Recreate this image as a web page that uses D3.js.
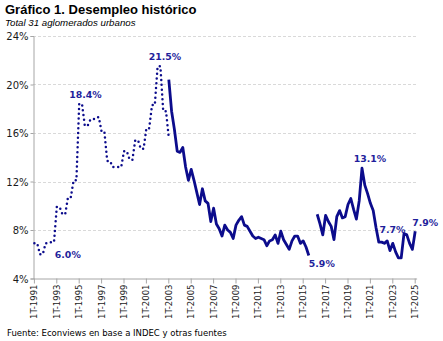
<!DOCTYPE html>
<html>
<head>
<meta charset="utf-8">
<script src="https://cdn.jsdelivr.net/npm/d3@7"></script>
<style>
  body { margin: 0; background: #fff; }
  svg { display: block; }
  .title { font-family: "Liberation Sans", Arial, sans-serif; font-weight: bold; font-size: 13px; fill: #000; }
  .sub { font-family: "Liberation Sans", Arial, sans-serif; font-style: italic; font-size: 9.7px; fill: #000; }
  .src { font-family: "DejaVu Sans", sans-serif; font-size: 8.5px; fill: #000; }
  .ylab { font-family: "DejaVu Sans", sans-serif; font-size: 10px; fill: #1a1a1a; }
  .xlab { font-family: "DejaVu Sans", sans-serif; font-size: 8.5px; fill: #1a1a1a; }
  .vlab { font-family: "DejaVu Sans", sans-serif; font-size: 9.4px; font-weight: bold; fill: #1f1f9c; }
</style>
</head>
<body>
<div id="chart"></div>
<script>
// quarters 1T-1991 ... 1T-2025
var years = d3.range(1991, 2026);
var quarters = [];
years.forEach(function(y) {
  for (var q = 1; q <= 4; q++) {
    if (y == 2025 && q > 1) break;
    quarters.push(q + "T-" + y);
  }
});

var tickLabels = ["1T-1991","1T-1993","1T-1995","1T-1997","1T-1999","1T-2001","1T-2003",
  "1T-2005","1T-2007","1T-2009","1T-2011","1T-2013","1T-2015","1T-2017","1T-2019",
  "1T-2021","1T-2023","1T-2025"];
var yTicks = [4, 8, 12, 16, 20, 24];

// EPH puntual (mayo / octubre), 1T-1991 a 1T-2003
var puntualStart = "1T-1991";
var puntual = [6.9, 6.9, 6.0, 6.0, 6.9, 6.9, 7.0, 7.0, 9.9, 9.9, 9.3, 9.3,
  10.7, 10.7, 12.1, 12.1, 18.4, 18.4, 16.6, 16.6, 17.1, 17.1, 17.3, 17.3,
  16.1, 16.1, 13.7, 13.7, 13.2, 13.2, 13.2, 13.2, 14.5, 14.5, 13.8, 13.8,
  15.4, 15.4, 14.7, 14.7, 16.4, 16.4, 18.3, 18.3, 21.5, 21.5, 17.8, 17.8, 15.6];

// EPH continua, 1T-2003 a 3T-2015
var continuaStart = "1T-2003";
var continua = [20.4, 17.8, 16.3, 14.5, 14.4, 14.8, 13.2, 12.1, 13.0, 12.1, 11.1, 10.1,
  11.4, 10.4, 10.2, 8.7, 9.8, 8.5, 8.1, 7.5, 8.4, 8.0, 7.8, 7.3,
  8.4, 8.8, 9.1, 8.4, 8.3, 7.9, 7.5, 7.3, 7.4, 7.3, 7.2, 6.7,
  7.1, 7.2, 7.6, 6.9, 7.9, 7.2, 6.8, 6.4, 7.1, 7.5, 7.5, 6.9,
  7.1, 6.6, 5.9];

// EPH continua, 2T-2016 a 1T-2025
var recienteStart = "2T-2016";
var reciente = [9.3, 8.5, 7.6, 9.2, 8.7, 8.3, 7.2, 9.1, 9.6, 9.0, 9.1,
  10.1, 10.6, 9.7, 8.9, 10.4, 13.1, 11.7, 11.0, 10.2, 9.6, 8.2, 7.0,
  7.0, 6.9, 7.1, 6.3, 6.9, 6.2, 5.7, 5.7, 7.7, 7.6, 6.9, 6.4, 7.9];

// labelled points
var labelQuarters = ["4T-1991", "2T-1995", "2T-2002", "3T-2015", "2T-2020", "1T-2024", "1T-2025"];

function toPoints(start, vals) {
  var i0 = quarters.indexOf(start);
  return vals.map(function(v, k) { return {q: quarters[i0 + k], v: v}; });
}

var dotted = toPoints(puntualStart, puntual);
var solidA = toPoints(continuaStart, continua);
var solidB = toPoints(recienteStart, reciente);
var allPts = dotted.concat(solidA, solidB);

const W = 443, H = 341;
const svg = d3.select("#chart").append("svg")
  .attr("width", W).attr("height", H);

const x = d3.scaleBand().domain(quarters).range([33, 416.6]).padding(0);
const y = d3.scaleLinear().domain([4, 24]).range([278.5, 36]);
const cx = q => x(q) + x.bandwidth() / 2;

// title
svg.append("text").attr("class", "title").attr("x", 5).attr("y", 14)
  .text("Gráfico 1. Desempleo histórico");
svg.append("text").attr("class", "sub").attr("x", 5).attr("y", 26)
  .text("Total 31 aglomerados urbanos");

// gridlines
svg.append("g").selectAll("line")
  .data(yTicks.filter(d => d > 4))
  .join("line")
  .attr("x1", 33).attr("x2", 417)
  .attr("y1", d => Math.round(y(d)) + 0.5).attr("y2", d => Math.round(y(d)) + 0.5)
  .attr("stroke", "#d9d9d9").attr("stroke-width", 1)
  .attr("stroke-dasharray", "3,2");

// y axis
const yAxis = svg.append("g")
  .attr("transform", "translate(33.5,0)")
  .call(d3.axisLeft(y).tickValues(yTicks).tickSize(3).tickFormat(d => d + "%"));
yAxis.select(".domain").attr("stroke", "#a6a6a6");
yAxis.selectAll(".tick line").attr("stroke", "#a6a6a6");
yAxis.selectAll("text").attr("class", "ylab").attr("x", -5).attr("dy", "0.35em");

// x axis
const xAxis = svg.append("g")
  .attr("transform", "translate(0,278.5)")
  .call(d3.axisBottom(x).tickValues(tickLabels).tickSize(5).tickSizeOuter(0));
xAxis.select(".domain").attr("stroke", "#a6a6a6");
xAxis.selectAll(".tick line").attr("stroke", "#a6a6a6");
xAxis.selectAll("text")
  .attr("class", "xlab")
  .attr("text-anchor", "end")
  .attr("transform", "translate(0,6) rotate(-90)")
  .attr("x", 0).attr("y", 0).attr("dy", "0.35em");

const line = d3.line()
  .x(d => cx(d.q))
  .y(d => y(d.v));

svg.append("path")
  .datum(dotted)
  .attr("d", line)
  .attr("fill", "none")
  .attr("stroke", "#0c0c8c")
  .attr("stroke-width", 2.5)
  .attr("stroke-linecap", "round")
  .attr("stroke-dasharray", "0,4.8");

[solidA, solidB].forEach(function(s) {
  svg.append("path")
    .datum(s)
    .attr("d", line)
    .attr("fill", "none")
    .attr("stroke", "#0c0c8c")
    .attr("stroke-width", 2.8)
    .attr("stroke-linejoin", "round");
});

// value labels, offsets from their points
var labelDx = [25, 3.5, 4.5, 13, 8, -11.5, 10];
var labelDy = [4, -6, -6, 11.5, -6.5, -1, -5];
svg.append("g").selectAll("text")
  .data(labelQuarters)
  .join("text")
  .attr("class", "vlab")
  .attr("text-anchor", "middle")
  .attr("x", (q, i) => cx(q) + labelDx[i])
  .attr("y", (q, i) => {
    var p = allPts.find(d => d.q == q);
    return y(p.v) + labelDy[i];
  })
  .text(q => allPts.find(d => d.q == q).v.toFixed(1) + "%");

svg.append("text").attr("class", "src").attr("x", 7).attr("y", 336)
  .text("Fuente: Econviews en base a INDEC y otras fuentes");
</script>
</body>
</html>
